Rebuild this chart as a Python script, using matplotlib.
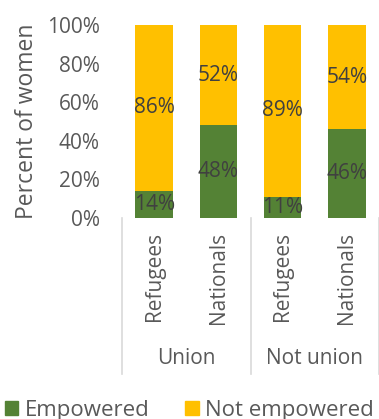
import matplotlib.pyplot as plt
from matplotlib.patches import Patch
import numpy as np

# ── Data ──────────────────────────────────────────────────────────────────────

groups = ["Union", "Not union"]
subgroups = ["Refugees", "Nationals", "Refugees", "Nationals"]
empowered = [14, 48, 11, 46]
not_empowered = [86, 52, 89, 54]

GREEN = "#548235"
YELLOW = "#FFC000"
TXT = "#595959"
GRID = "#d9d9d9"

plt.rcParams["font.family"] = ["Open Sans", "DejaVu Sans"]

W, H = 379, 419
fig = plt.figure(figsize=(W / 100, H / 100), dpi=100)
ax = fig.add_axes([122 / W, (H - 218) / H, 257 / W, 193 / H])

x = np.arange(len(subgroups))
ax.bar(x, empowered, width=0.58, color=GREEN)
ax.bar(x, not_empowered, width=0.58, bottom=empowered, color=YELLOW)

for xi, e, n in zip(x, empowered, not_empowered):
    ax.text(xi, e / 2, f"{e}%", ha="center", va="center", fontsize=15, color="#404040")
    ax.text(xi, e + n / 2, f"{n}%", ha="center", va="center", fontsize=15, color="#404040")

ax.set_xlim(-0.5, len(subgroups) - 0.5)
ax.set_ylim(0, 100)
ax.set_yticks(range(0, 101, 20))
ax.set_yticklabels([f"{v}%" for v in range(0, 101, 20)], fontsize=15, color=TXT)
ax.tick_params(axis="y", length=0, pad=16)
ax.set_xticks([])
for s in ["top", "right", "left", "bottom"]:
    ax.spines[s].set_visible(False)
ax.set_ylabel("Percent of women", fontsize=16.5, color=TXT, labelpad=6)

# category axis drawn by hand below the plot
trans = ax.get_xaxis_transform()
depth = -156 / 193
for xv in [-0.5, 1.5, 3.5]:
    ax.plot([xv, xv], [0, depth], transform=trans, color=GRID, lw=1.2, clip_on=False)
for xi, lab in zip(x, subgroups):
    ax.text(xi, -14 / 193, lab, transform=trans, rotation=90, ha="center", va="top",
            fontsize=15, color=TXT)
for gi, g in enumerate(groups):
    ax.text(gi * 2 + 0.5, -140 / 193, g, transform=trans, ha="center", va="center",
            fontsize=15, color=TXT)

handles = [Patch(color=GREEN, label="Empowered"), Patch(color=YELLOW, label="Not empowered")]
fig.legend(handles=handles, loc="center", bbox_to_anchor=(0.5, 9 / H), ncol=2,
           frameon=False, fontsize=16, handlelength=0.6, handleheight=0.6,
           handletextpad=0.3, columnspacing=1.6, labelcolor=TXT, borderpad=0)

fig.savefig("out.png", dpi=100)
